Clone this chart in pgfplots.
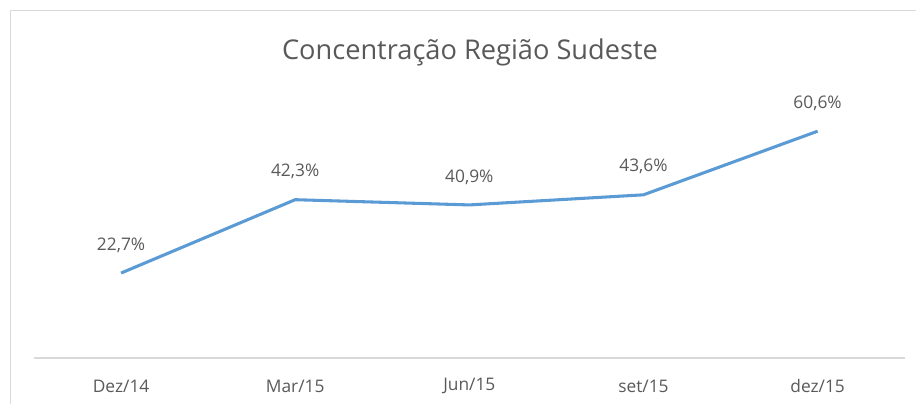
\documentclass[border=0pt]{standalone}
\usepackage{pgfplots}
\pgfplotsset{compat=1.18}
\usepackage{fontspec}
\setmainfont{Open Sans}
\definecolor{txt}{HTML}{595959}
\definecolor{grid}{HTML}{D9D9D9}
\definecolor{line}{HTML}{5B9BD5}
\begin{document}
\begin{tikzpicture}[x=0.75pt,y=0.75pt]
\path[use as bounding box] (0,0) rectangle (916,404);
\draw[grid, line width=0.75pt] (10,0) -- (10,393) -- (916,393);
\node[text=txt, font=\fontsize{20.4}{24}\selectfont] at (470,352) {Concentração Região Sudeste};
\begin{axis}[
  at={(25.5pt,34.5pt)}, anchor=south west,
  scale only axis, width=653pt, height=196.5pt,
  xmin=-0.5, xmax=4.5, ymin=0, ymax=70,
  axis x line*=bottom, axis y line=none,
  x axis line style={grid, line width=0.9pt, -},
  xtick={0,1,2,3,4}, major tick length=0pt,
  xticklabels={Dez/14,Mar/15,Jun/15,set/15,dez/15},
  xticklabel style={text=txt, font=\fontsize{13}{15}\selectfont, anchor=center, yshift=-21pt},
  clip=false,
  nodes near coords, point meta=explicit symbolic,
  every node near coord/.style={anchor=center, yshift=21pt, text=txt, font=\fontsize{13}{15}\selectfont},
]
\addplot[line, line width=2.3pt, no markers] coordinates {
  (0,22.7) [22,7\%]
  (1,42.3) [42,3\%]
  (2,40.9) [40,9\%]
  (3,43.6) [43,6\%]
  (4,60.6) [60,6\%]
};
\end{axis}
\end{tikzpicture}
\end{document}
